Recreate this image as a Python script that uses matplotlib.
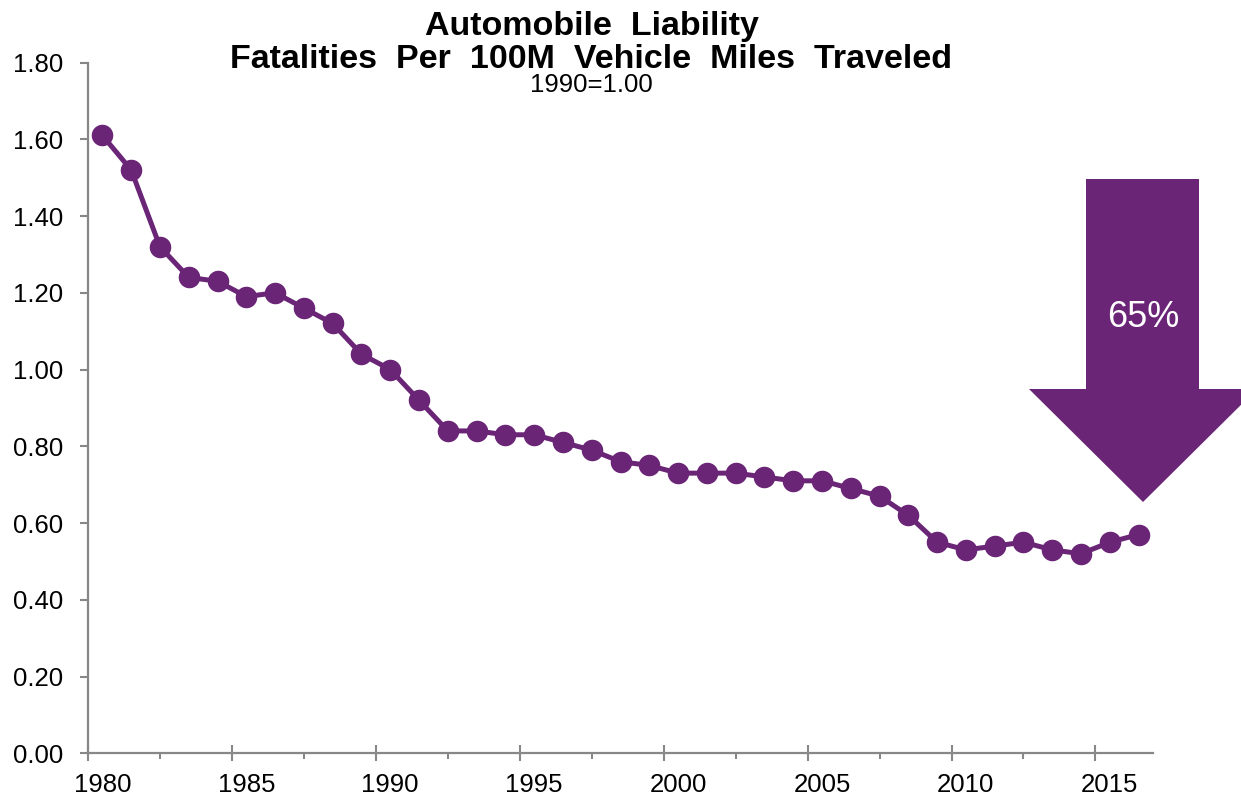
import matplotlib
matplotlib.use("Agg")
import matplotlib.pyplot as plt
from matplotlib.patches import Polygon

# Fatalities per 100M vehicle miles traveled, indexed to 1990 = 1.00
years = list(range(1980, 2017))
index_values = [1.61, 1.52, 1.32, 1.24, 1.23, 1.19, 1.20, 1.16, 1.12, 1.04,
                1.00, 0.92, 0.84, 0.84, 0.83, 0.83, 0.81, 0.79, 0.76, 0.75,
                0.73, 0.73, 0.73, 0.72, 0.71, 0.71, 0.69, 0.67, 0.62, 0.55,
                0.53, 0.54, 0.55, 0.53, 0.52, 0.55, 0.57]
year_labels = ["1980", "1985", "1990", "1995", "2000", "2005", "2010", "2015"]
y_ticks = [0.0, 0.2, 0.4, 0.6, 0.8, 1.0, 1.2, 1.4, 1.6, 1.8]

title_lines = ["Automobile  Liability", "Fatalities  Per  100M  Vehicle  Miles  Traveled"]
subtitle = "1990=1.00"
decline_label = "65%"

PURPLE = "#6b2577"
AXIS_GREY = "#878787"

plt.rcParams["font.family"] = ["Liberation Sans", "DejaVu Sans"]

W, H = 1241, 797
fig = plt.figure(figsize=(W / 100, H / 100), dpi=100)
fig.patch.set_facecolor("white")

left, right, bottom, top = 88, 1153, 753.3, 62.5
ax = fig.add_axes([left / W, 1 - bottom / H, (right - left) / W, (bottom - top) / H])

x = list(range(len(years)))
ax.plot(x, index_values, color=PURPLE, lw=3.6, marker="o", ms=14.5,
        markeredgecolor=PURPLE, solid_joinstyle="round", zorder=3, clip_on=False)

ax.set_xlim(-0.5, len(years) - 0.5)
ax.set_ylim(0, 1.8)

for side in ("top", "right"):
    ax.spines[side].set_visible(False)
for side in ("left", "bottom"):
    ax.spines[side].set_color(AXIS_GREY)
    ax.spines[side].set_linewidth(1.6)

# y axis
ax.set_yticks(y_ticks)
ax.set_yticklabels([f"{v:.2f}" for v in y_ticks])
ax.tick_params(axis="y", direction="out", length=5.8, width=1.5, color=AXIS_GREY,
               labelsize=18.5, pad=12, labelcolor="black")

# x axis: labels centred on categories, long marks at category boundaries
label_pos = [years.index(int(s)) for s in year_labels]
ax.set_xticks(label_pos)
ax.set_xticklabels(year_labels)
ax.tick_params(axis="x", which="major", length=0, labelsize=18.5, pad=14,
               labelcolor="black")
boundary_pos = [p - 0.5 for p in label_pos]
ax.set_xticks(boundary_pos, minor=True)
ax.tick_params(axis="x", which="minor", direction="inout", length=11.5, width=1.5,
               color=AXIS_GREY)

# short marks halfway between the long ones
sec = ax.secondary_xaxis("bottom")
sec.set_xticks([p + 2.5 for p in boundary_pos[:-1]])
sec.set_xticklabels([])
sec.tick_params(direction="out", length=4.3, width=1.5, color=AXIS_GREY)
sec.spines["bottom"].set_visible(False)

# title block
cx = 591.5 / W
fig.text(cx, 1 - 35 / H, title_lines[0], ha="center", va="baseline",
         fontsize=24.5, fontweight="bold")
fig.text(cx, 1 - 68 / H, title_lines[1], ha="center", va="baseline",
         fontsize=24.5, fontweight="bold")
fig.text(cx, 1 - 91.7 / H, subtitle, ha="center", va="baseline", fontsize=18.5)

# downward arrow showing the overall decline
arrow_px = [(1086, 179), (1199, 179), (1199, 389), (1257, 389), (1143, 502),
            (1029, 389), (1086, 389)]
arrow = Polygon([(px / W, 1 - py / H) for px, py in arrow_px], closed=True,
                transform=fig.transFigure, facecolor=PURPLE, edgecolor="none",
                zorder=4)
fig.add_artist(arrow)
fig.text(1143 / W, 1 - 317 / H, decline_label, ha="center", va="center",
         fontsize=26, color="white", zorder=5)

fig.savefig("out.png", dpi=100, facecolor="white")
